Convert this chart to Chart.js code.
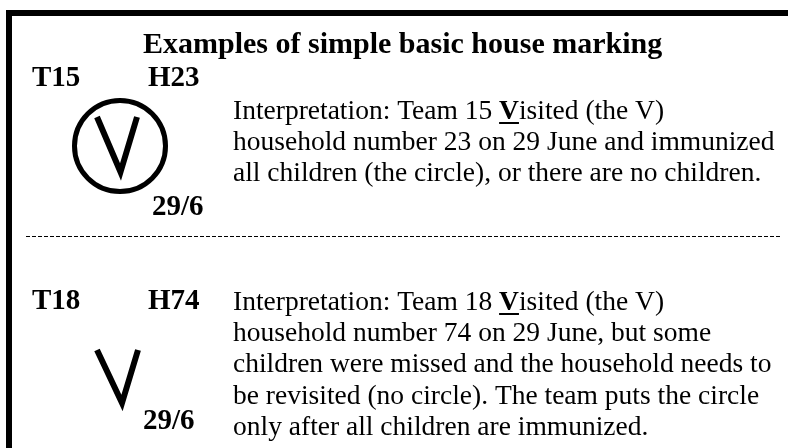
<!DOCTYPE html>
<html lang="en">
<head>
<meta charset="UTF-8">
<title>Examples of simple basic house marking</title>
<script src="https://cdn.jsdelivr.net/npm/chart.js"></script>
<style>
  html, body { margin: 0; padding: 0; background: #fff; }
</style>
</head>
<body>
<canvas id="markChart" width="788" height="448"></canvas>
<script>
// --- content ---
const title = 'Examples of simple basic house marking';
const teams = ['T15', 'T18'];
const houses = ['H23', 'H74'];
const dates = ['29/6', '29/6'];
const circled = [true, false];
// {V} = bold underlined V
const notes = [
  ['Interpretation: Team 15 {V}isited (the V)',
   'household number 23 on 29 June and immunized',
   'all children (the circle), or there are no children.'],
  ['Interpretation: Team 18 {V}isited (the V)',
   'household number 74 on 29 June, but some',
   'children were missed and the household needs to',
   'be revisited (no circle). The team puts the circle',
   'only after all children are immunized.']
];

// --- layout (canvas units, y grows downward) ---
const layout = {
  titleX: 143, titleY: 53,
  teamX: 32, houseX: 148, noteX: 233, lineGap: 31.2,
  blocks: [
    { headY: 86, noteY: 119, dateX: 152, dateY: 215, circle: { x: 120, y: 146 },
      vMark: [{ x: 97, y: 117 }, { x: 120.5, y: 172 }, { x: 137, y: 117 }] },
    { headY: 309, noteY: 310, dateX: 143, dateY: 429, circle: null,
      vMark: [{ x: 97, y: 350 }, { x: 122, y: 403 }, { x: 138, y: 350 }] }
  ],
  frame: [{ x: 800, y: 13 }, { x: 9, y: 13 }, { x: 9, y: 460 }],
  divider: [{ x: 26, y: 236.5 }, { x: 782, y: 236.5 }]
};

const serif = '"Liberation Serif", "Times New Roman", serif';
const titleFont = 'bold 30px ' + serif;
const boldFont = 'bold 29px ' + serif;
const textFont = '27.5px ' + serif;

const datasets = [
  { type: 'line', data: layout.frame, borderColor: '#000', borderWidth: 6,
    pointRadius: 0, borderJoinStyle: 'miter', clip: false },
  { type: 'line', data: layout.divider, borderColor: '#000', borderWidth: 1,
    borderDash: [4, 2], pointRadius: 0, clip: false }
];
layout.blocks.forEach((b, i) => {
  datasets.push({ type: 'line', data: b.vMark, borderColor: '#000', borderWidth: 6,
    pointRadius: 0, borderJoinStyle: 'miter', borderCapStyle: 'butt', clip: false });
  if (circled[i]) {
    datasets.push({ type: 'scatter', data: [b.circle], pointRadius: 45.5,
      pointBorderWidth: 5, pointBorderColor: '#000',
      pointBackgroundColor: 'rgba(0,0,0,0)', clip: false });
  }
});

const textPlugin = {
  id: 'markText',
  afterDatasetsDraw(chart) {
    const ctx = chart.ctx;
    const xs = chart.scales.x, ys = chart.scales.y;
    const px = v => xs.getPixelForValue(v);
    const py = v => ys.getPixelForValue(v);
    ctx.save();
    ctx.fillStyle = '#000';
    ctx.textBaseline = 'alphabetic';
    ctx.textAlign = 'left';

    ctx.font = titleFont;
    ctx.fillText(title, px(layout.titleX), py(layout.titleY));

    layout.blocks.forEach((b, i) => {
      ctx.font = boldFont;
      ctx.fillText(teams[i], px(layout.teamX), py(b.headY));
      ctx.fillText(houses[i], px(layout.houseX), py(b.headY));
      ctx.fillText(dates[i], px(b.dateX), py(b.dateY));

      notes[i].forEach((line, j) => {
        const y = py(b.noteY + j * layout.lineGap);
        let x = px(layout.noteX);
        const parts = line.split(/(\{V\})/);
        parts.forEach(part => {
          if (part === '{V}') {
            ctx.font = 'bold 27.5px ' + serif;
            const w = ctx.measureText('V').width;
            ctx.fillText('V', x, y);
            ctx.fillRect(x, y + 3, w, 2);
            x += w;
          } else if (part) {
            ctx.font = textFont;
            ctx.fillText(part, x, y);
            x += ctx.measureText(part).width;
          }
        });
      });
    });
    ctx.restore();
  }
};

new Chart(document.getElementById('markChart'), {
  data: { datasets },
  options: {
    responsive: false,
    animation: false,
    layout: { padding: 0, autoPadding: false },
    plugins: { legend: { display: false }, tooltip: { enabled: false } },
    scales: {
      x: { type: 'linear', min: 0, max: 788, display: false },
      y: { type: 'linear', min: 0, max: 448, reverse: true, display: false }
    }
  },
  plugins: [textPlugin]
});
</script>
</body>
</html>
